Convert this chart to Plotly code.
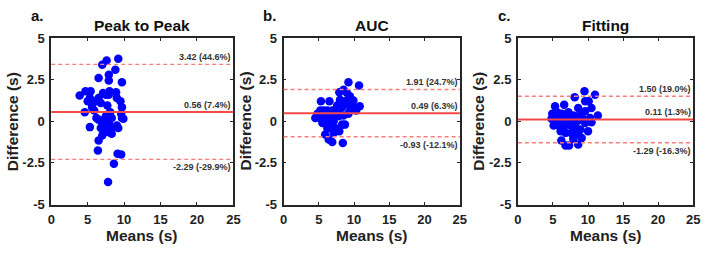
import plotly.graph_objects as go

# ---- data ----
panel_titles = ["Peak to Peak", "AUC", "Fitting"]
panel_letters = ["a.", "b.", "c."]

a_means = [3.9, 4.7, 5.4, 4.6, 5.0, 5.3, 5.6, 5.3, 6.5, 7.0, 7.6, 7.9, 7.9, 8.8, 9.2, 9.7, 8.9, 9.0,
           7.1, 6.5, 6.1, 6.8, 7.5, 7.9, 7.7, 6.2, 6.5, 7.0, 6.8, 7.2, 7.0, 6.5, 6.4, 7.5, 7.9, 8.3,
           8.1, 7.7, 8.3, 9.0, 8.3, 7.9, 9.2, 9.1, 9.6, 8.6, 7.8, 9.7, 9.6, 9.5, 9.7, 9.9, 7.5, 7.2,
           5.6, 5.9, 8.0, 7.6]
a_diffs = [1.55, 1.8, 1.8, 0.55, 1.2, 1.4, 1.0, -0.35, 2.6, 3.4, 3.65, 2.8, 2.45, 3.1, 3.75, 2.35, 1.75, 1.4,
           1.7, 1.4, 1.2, 1.1, 1.6, 1.6, 0.95, 0.2, 0.1, -0.1, -0.4, -0.6, -0.85, -1.15, -1.75, -0.3, -0.1, 0.2,
           0.55, 0.4, -0.4, -0.25, -0.75, -0.65, -0.4, -1.95, -2.0, -2.55, -3.65, 0.2, 0.45, 1.2, 0.85, 0.15, 0.3, 0.1,
           0.85, 0.65, 1.8, -0.5]

b_means = [9.2, 10.7, 5.3, 6.5, 7.9, 8.5, 9.0, 9.4, 9.9, 8.0, 7.6, 8.3, 9.0, 9.7, 10.3, 10.8, 4.8, 5.2,
           5.7, 6.2, 6.9, 7.3, 5.1, 5.9, 6.6, 6.4, 7.1, 7.8, 8.5, 9.2, 6.6, 7.3, 8.3, 8.7, 7.9, 5.9,
           6.4, 6.9, 8.4, 7.1, 4.5, 5.7, 7.8, 9.4, 10.0, 8.7, 7.1, 5.5, 6.2]
b_diffs = [2.35, 2.15, 1.2, 1.2, 1.75, 1.9, 1.7, 1.5, 1.25, 1.3, 0.95, 0.85, 1.05, 0.85, 0.65, 0.9, 0.45, 0.65,
           0.35, 0.65, 0.65, 0.55, 0.2, 0.1, 0.2, -0.15, 0.0, 0.3, 0.35, 0.45, -0.4, -0.4, -0.2, -0.2, -0.6, -0.8,
           -1.1, -1.25, -1.3, -0.7, 0.2, 0.65, 0.65, 0.65, 0.85, 1.2, 0.3, -0.1, -0.4]

c_means = [9.5, 11.0, 8.1, 9.6, 5.3, 6.6, 8.6, 10.5, 9.6, 11.4, 4.9, 5.6, 6.3, 7.2, 7.9, 8.9, 10.3, 4.8,
           5.5, 6.2, 7.0, 7.8, 8.6, 9.3, 10.5, 5.1, 5.8, 6.5, 7.5, 8.2, 8.9, 6.8, 7.6, 8.6, 9.1, 10.0,
           6.2, 6.8, 7.3, 8.6, 5.8, 8.2, 9.6, 7.0, 5.3, 6.1, 7.9, 10.1]
c_diffs = [1.8, 1.6, 1.45, 1.2, 0.9, 1.0, 0.8, 0.8, 0.6, 0.35, 0.45, 0.55, 0.45, 0.55, 0.35, 0.45, 0.2, 0.15,
           0.0, 0.1, -0.05, 0.1, 0.05, 0.15, -0.05, -0.25, -0.25, -0.4, -0.25, -0.4, -0.5, -0.7, -0.7, -0.8, -1.0, -0.6,
           -1.15, -1.45, -1.45, -1.4, 0.05, -0.1, -0.1, 0.25, 0.25, -0.6, -1.05, 1.2]

# bias and limits of agreement: [upper, mean, lower]
limits = [[3.42, 0.56, -2.29], [1.91, 0.49, -0.93], [1.50, 0.11, -1.29]]
limit_labels = [["3.42 (44.6%)", "0.56 (7.4%)", "-2.29 (-29.9%)"],
                ["1.91 (24.7%)", "0.49 (6.3%)", "-0.93 (-12.1%)"],
                ["1.50 (19.0%)", "0.11 (1.3%)", "-1.29 (-16.3%)"]]

x_ticks = [0, 5, 10, 15, 20, 25]
y_ticks = [-5, -2.5, 0, 2.5, 5]
y_tick_text = ["-5", "-2.5", "0", "2.5", "5"]

means = [a_means, b_means, c_means]
diffs = [a_diffs, b_diffs, c_diffs]

# ---- layout geometry ----
W, H = 709, 253
x_doms = [(48 / W, 233 / W), (284 / W, 463 / W), (522 / W, 700 / W)]
y_dom = (1 - 210 / H, 1 - 33 / H)
ytitle_x = [8, 245, 482]
letter_x = [25, 261, 500]

FONT = "Liberation Sans, Arial, sans-serif"
fig = go.Figure()
annotations = []
shapes = []

for i in range(3):
    xa = "x" if i == 0 else f"x{i+1}"
    ya = "y" if i == 0 else f"y{i+1}"
    fig.add_trace(go.Scatter(
        x=means[i], y=diffs[i], mode="markers",
        marker=dict(color="#0000ff", size=8.5, line=dict(width=0)),
        xaxis=xa, yaxis=ya, showlegend=False))
    # limit lines
    for k, val in enumerate(limits[i]):
        shapes.append(dict(
            type="line", xref=f"{xa} domain", yref=ya, x0=0, x1=1, y0=val, y1=val,
            line=dict(color="#f44848" if k == 1 else "#f77c7c",
                      width=2 if k == 1 else 1.4,
                      dash="solid" if k == 1 else "4px,3px"), layer="above"))
        annotations.append(dict(
            xref=f"{xa} domain", yref=ya, x=1, y=val, text=limit_labels[i][k],
            showarrow=False, xanchor="right", yanchor="top" if k == 2 else "bottom",
            yshift=-1 if k == 2 else 0,
            font=dict(family=FONT, size=9, color="#333333", weight="bold")))
    # title
    annotations.append(dict(
        xref=f"{xa} domain", yref="paper", x=0.5, y=1 - 20 / H, text=panel_titles[i],
        showarrow=False, xanchor="center", yanchor="middle",
        font=dict(family=FONT, size=15.5, color="#111111", weight="bold")))
    # panel letter
    annotations.append(dict(
        xref="paper", yref="paper", x=letter_x[i] / W, y=1 - 9 / H, text=panel_letters[i],
        showarrow=False, xanchor="left", yanchor="middle",
        font=dict(family=FONT, size=15, color="#111111", weight="bold")))
    # y title
    annotations.append(dict(
        xref="paper", yref="paper", x=ytitle_x[i] / W, y=(y_dom[0] + y_dom[1]) / 2,
        text="Difference (s)", textangle=-90, showarrow=False,
        xanchor="center", yanchor="middle",
        font=dict(family=FONT, size=15.5, color="#222222", weight="bold")))
    # x title
    annotations.append(dict(
        xref=f"{xa} domain", yref="paper", x=0.5, y=0, text="Means (s)",
        showarrow=False, xanchor="center", yanchor="bottom", yshift=-1,
        font=dict(family=FONT, size=15.5, color="#222222", weight="bold")))

    axis_common = dict(showgrid=False, zeroline=False, showline=True, linecolor="#262626",
                       linewidth=1.8, mirror="ticks", ticks="inside", ticklen=3,
                       tickcolor="#262626", tickwidth=1,
                       tickfont=dict(family=FONT, size=13, color="#222222", weight="bold"))
    fig.update_layout(**{
        ("xaxis" if i == 0 else f"xaxis{i+1}"): dict(
            domain=list(x_doms[i]), range=[0, 25], tickvals=x_ticks, anchor=ya,
            ticklabelstandoff=2, **axis_common),
        ("yaxis" if i == 0 else f"yaxis{i+1}"): dict(
            domain=list(y_dom), range=[-5, 5], tickvals=y_ticks, ticktext=y_tick_text,
            anchor=xa, ticklabelstandoff=2, **axis_common),
    })

fig.update_layout(
    width=W, height=H, margin=dict(l=0, r=0, t=0, b=0),
    paper_bgcolor="white", plot_bgcolor="white",
    annotations=annotations, shapes=shapes, showlegend=False)

fig.write_html("out.html")
